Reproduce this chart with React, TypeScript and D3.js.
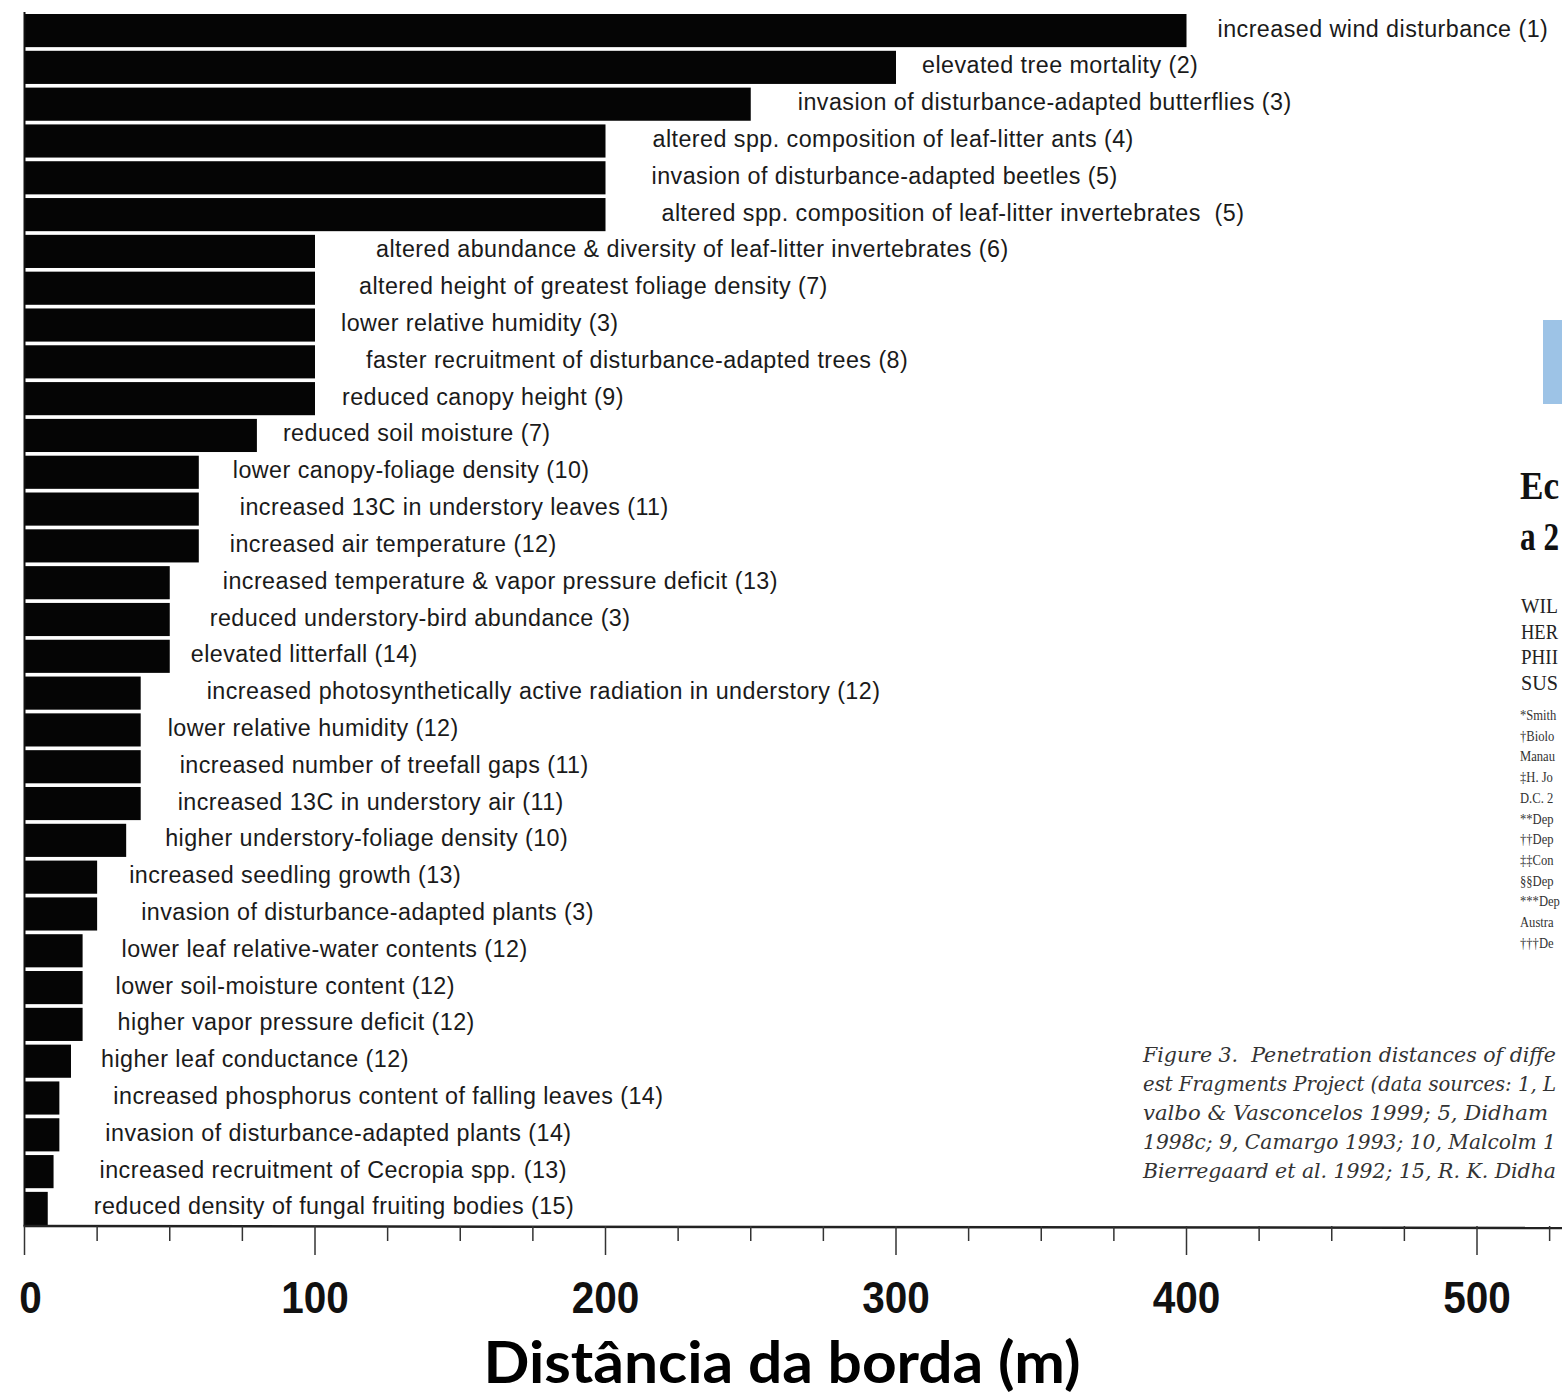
import React from "react";
import * as d3 from "d3";

// ---------- data ----------
const effects: string[] = [
  "increased wind disturbance (1)",
  "elevated tree mortality (2)",
  "invasion of disturbance-adapted butterflies (3)",
  "altered spp. composition of leaf-litter ants (4)",
  "invasion of disturbance-adapted beetles (5)",
  "altered spp. composition of leaf-litter invertebrates  (5)",
  "altered abundance & diversity of leaf-litter invertebrates (6)",
  "altered height of greatest foliage density (7)",
  "lower relative humidity (3)",
  "faster recruitment of disturbance-adapted trees (8)",
  "reduced canopy height (9)",
  "reduced soil moisture (7)",
  "lower canopy-foliage density (10)",
  "increased 13C in understory leaves (11)",
  "increased air temperature (12)",
  "increased temperature & vapor pressure deficit (13)",
  "reduced understory-bird abundance (3)",
  "elevated litterfall (14)",
  "increased photosynthetically active radiation in understory (12)",
  "lower relative humidity (12)",
  "increased number of treefall gaps (11)",
  "increased 13C in understory air (11)",
  "higher understory-foliage density (10)",
  "increased seedling growth (13)",
  "invasion of disturbance-adapted plants (3)",
  "lower leaf relative-water contents (12)",
  "lower soil-moisture content (12)",
  "higher vapor pressure deficit (12)",
  "higher leaf conductance (12)",
  "increased phosphorus content of falling leaves (14)",
  "invasion of disturbance-adapted plants (14)",
  "increased recruitment of Cecropia spp. (13)",
  "reduced density of fungal fruiting bodies (15)",
];

const distances: number[] = [
  400, 300, 250, 200, 200, 200, 100, 100, 100, 100, 100, 80, 60, 60, 60, 50,
  50, 50, 40, 40, 40, 40, 35, 25, 25, 20, 20, 20, 16, 12, 12, 10, 8,
];

const majorTicks: number[] = [0, 100, 200, 300, 400, 500];
const axisTitle = "Distância da borda (m)";

// scanned page fragments visible (cut) at the right edge
const paperTitle: string[] = ["Ec", "a 2"];
const authorLines: string[] = ["WIL", "HER", "PHII", "SUS"];
const affiliationLines: string[] = [
  "*Smith",
  "†Biolo",
  "Manau",
  "‡H. Jo",
  "D.C. 2",
  "**Dep",
  "††Dep",
  "‡‡Con",
  "§§Dep",
  "***Dep",
  "Austra",
  "†††De",
];
const captionLines: string[] = [
  "Figure 3.  Penetration distances of diffe",
  "est Fragments Project (data sources: 1, L",
  "valbo & Vasconcelos 1999; 5, Didham",
  "1998c; 9, Camargo 1993; 10, Malcolm 1",
  "Bierregaard et al. 1992; 15, R. K. Didha",
];

// label spacing after each bar end (layout, px)
const labelPad: number[] = [
  31, 26, 47, 47, 46, 56, 61, 44, 26, 51, 27, 26, 34, 41, 31, 53, 40, 21, 66,
  27, 39, 37, 39, 32, 44, 39, 33, 35, 30, 54, 46, 46, 46,
];

export default function App() {
  const W = 1562;
  const H = 1397;
  const x = d3.scaleLinear().domain([0, 500]).range([24.5, 1477]);
  const y = d3
    .scaleBand<number>()
    .domain(d3.range(effects.length))
    .range([14, 1225])
    .paddingInner(0.1)
    .paddingOuter(0);
  const axisY = 1226;
  const minorTicks = d3.range(0, 526, 25);
  const serif = "'Liberation Serif', 'Times New Roman', serif";

  return (
    <svg
      width={W}
      height={H}
      viewBox={`0 0 ${W} ${H}`}
      style={{ position: "absolute", left: 0, top: 0, background: "#fff" }}
    >
      <rect x={0} y={0} width={W} height={H} fill="#fff" />
      {/* bars */}
      {distances.map((v, i) => (
        <rect
          key={i}
          x={x(0)}
          y={y(i)!}
          width={x(v) - x(0)}
          height={y.bandwidth()}
          fill="#050505"
        />
      ))}
      {/* labels */}
      {effects.map((t, i) => (
        <text
          key={i}
          x={x(distances[i]) + labelPad[i]}
          y={y(i)! + y.bandwidth() / 2 - 2}
          dominantBaseline="central"
          fontFamily="'Liberation Sans', Arial, sans-serif"
          fontSize={23.3}
          letterSpacing={0.45}
          fill="#1a1a1a"
          style={{ whiteSpace: "pre" }}
        >
          {t}
        </text>
      ))}
      {/* left axis line */}
      <line x1={x(0)} x2={x(0)} y1={12} y2={axisY} stroke="#111" strokeWidth={2} />
      {/* bottom axis */}
      <line x1={x(0) - 1} x2={W} y1={axisY} y2={axisY + 2} stroke="#222" strokeWidth={2.5} />
      {minorTicks.map((t) => {
        const major = t % 100 === 0;
        return (
          <line
            key={t}
            x1={x(t)}
            x2={x(t)}
            y1={axisY}
            y2={axisY + (major ? 29 : 15)}
            stroke="#333"
            strokeWidth={1.5}
          />
        );
      })}
      {majorTicks.map((t) => (
        <text
          key={t}
          transform={`translate(${x(t) + (t === 0 ? 6 : 0)},1313) scale(0.9,1)`}
          textAnchor="middle"
          fontFamily="'Liberation Sans', Arial, sans-serif"
          fontWeight={700}
          fontSize={45}
          fill="#111"
        >
          {t}
        </text>
      ))}
      <text
        x={782}
        y={1383}
        textAnchor="middle"
        fontFamily="Lato, 'Open Sans', sans-serif"
        fontWeight={700}
        fontSize={57}
        fill="#000"
        textLength={597}
        lengthAdjust="spacingAndGlyphs"
      >
        {axisTitle}
      </text>

      {/* right side page fragments */}
      <rect x={1543} y={320} width={W - 1543} height={84} fill="#9dc3e6" />
      {paperTitle.map((t, i) => (
        <text
          key={t}
          transform={`translate(1520,${499 + i * 51}) scale(${i === 0 ? 0.88 : 0.78},1)`}
          fontFamily={serif}
          fontWeight={700}
          fontSize={40}
          fill="#111"
        >
          {t}
        </text>
      ))}
      {authorLines.map((t, i) => (
        <text
          key={t}
          x={1521}
          y={613 + i * 25.7}
          fontFamily={serif}
          fontSize={21}
          fill="#222"
          textLength={37}
          lengthAdjust="spacingAndGlyphs"
        >
          {t}
        </text>
      ))}
      {affiliationLines.map((t, i) => (
        <text
          key={t}
          transform={`translate(1520,${720 + i * 20.7}) scale(0.84,1)`}
          fontFamily={serif}
          fontSize={15}
          fill="#333"
        >
          {t}
        </text>
      ))}
      {captionLines.map((t, i) => (
        <text
          key={t}
          x={1143}
          y={1062 + i * 29}
          fontFamily="'DejaVu Serif', serif"
          fontStyle="italic"
          fontSize={19.5}
          fill="#333"
          textLength={i === 2 ? 405 : 413}
          lengthAdjust="spacingAndGlyphs"
          style={{ whiteSpace: "pre" }}
        >
          {t}
        </text>
      ))}
    </svg>
  );
}
